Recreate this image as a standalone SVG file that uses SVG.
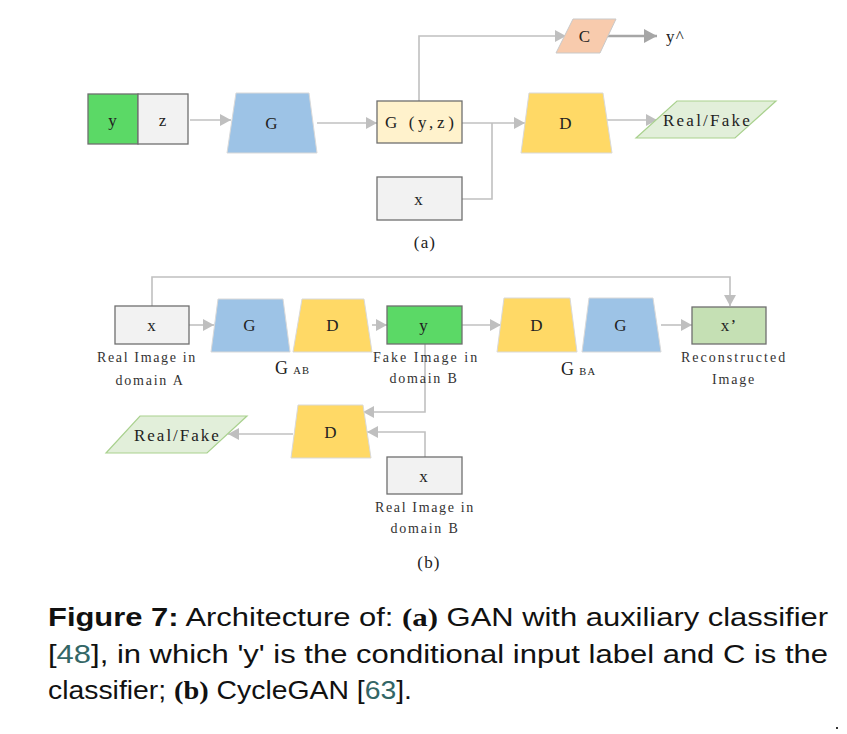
<svg xmlns="http://www.w3.org/2000/svg" width="847" height="734" viewBox="0 0 847 734">
<defs>
<marker id="arr" markerUnits="userSpaceOnUse" markerWidth="12" markerHeight="12" refX="11" refY="6" orient="auto">
<path d="M0,0 L11,6 L0,12 z" fill="#bfbfbf"/>
</marker>
<marker id="arrD" markerUnits="userSpaceOnUse" markerWidth="14" markerHeight="14" refX="13" refY="7" orient="auto">
<path d="M0,0 L13,7 L0,14 z" fill="#a6a6a6"/>
</marker>
<style>
.lbl{font-family:"Liberation Serif",serif;font-size:17px;fill:#222;text-anchor:middle;dominant-baseline:central;letter-spacing:1.2px}
.ann{font-family:"Liberation Serif",serif;font-size:14px;fill:#333;text-anchor:middle;dominant-baseline:central;letter-spacing:1.8px}
.box{stroke:#6f6f6f;stroke-width:1.3}
.trap{stroke:#d9d9d9;stroke-width:1}
.blue{fill:#9dc3e6}
.yel{fill:#ffd966}
.gray{fill:#f2f2f2}
.green{fill:#5bd966}
.rf{fill:#e2efda;stroke:#a9d18e;stroke-width:1.2}
.con{fill:none;stroke:#c0c0c0;stroke-width:1.6}
.cap{font-family:"Liberation Sans",sans-serif;font-size:25px;fill:#111}
</style>
</defs>
<rect width="847" height="734" fill="#fff"/>

<g id="connectors">
<path class="con" d="M190,120 H231" marker-end="url(#arr)"/>
<path class="con" d="M317,123 H377" marker-end="url(#arr)"/>
<path class="con" d="M419,101 V36 H566" marker-end="url(#arr)"/>
<path d="M607,36 H657" fill="none" stroke="#a6a6a6" stroke-width="2.4" marker-end="url(#arrD)"/>
<path class="con" d="M462,123 H525" marker-end="url(#arr)"/>
<path class="con" d="M462,199 H492 V123"/>
<path class="con" d="M607,120 H657" marker-end="url(#arr)"/>
<path class="con" d="M152,306 V277 H730 V306" marker-end="url(#arr)"/>
<path class="con" d="M189,325 H214" marker-end="url(#arr)"/>
<path class="con" d="M372,325 H387" marker-end="url(#arr)"/>
<path class="con" d="M462,325 H501" marker-end="url(#arr)"/>
<path class="con" d="M661,325 H692" marker-end="url(#arr)"/>
<path class="con" d="M425,344 V412 H363" marker-end="url(#arr)"/>
<path class="con" d="M425,457 V432 H367" marker-end="url(#arr)"/>
<path class="con" d="M293,434 H228" marker-end="url(#arr)"/>
</g>

<!-- (a) -->
<g id="a-yz">
<rect class="box green" x="88" y="94" width="50" height="50"/>
<rect class="box gray" x="138" y="94" width="50" height="50"/>
<text class="lbl" x="113" y="120">y</text>
<text class="lbl" x="163" y="120">z</text>
</g>
<g id="a-G">
<polygon class="trap blue" points="236,93 309,93 317,153 227,153"/>
<text class="lbl" x="272" y="123">G</text>
</g>
<g id="a-Gyz">
<rect class="box" fill="#fff2cc" x="377" y="101" width="85" height="42"/>
<text class="lbl" x="420" y="122" textLength="70" lengthAdjust="spacing">G (y,z)</text>
</g>
<g id="a-x">
<rect class="box gray" x="377" y="177" width="85" height="43"/>
<text class="lbl" x="419" y="199">x</text>
</g>
<g id="a-C">
<polygon points="573,19 616,19 600,53 556,53" fill="#f8cbad" stroke="#c9c9c9" stroke-width="1"/>
<text class="lbl" x="585" y="36">C</text>
</g>
<g id="a-yhat">
<text class="lbl" x="666" y="36" style="text-anchor:start">y^</text>
</g>
<g id="a-D">
<polygon class="trap yel" points="529,93 603,93 612,153 521,153"/>
<text class="lbl" x="566" y="123">D</text>
</g>
<g id="a-RF">
<polygon class="rf" points="677,101 776,101 735,138 636,138"/>
<text class="lbl" x="707" y="120" textLength="88" lengthAdjust="spacing">Real/Fake</text>
</g>
<text class="lbl" x="425" y="242">(a)</text>

<!-- (b) -->
<g id="b-xA">
<rect class="box gray" x="115" y="306" width="74" height="38"/>
<text class="lbl" x="152" y="325">x</text>
<text class="ann" x="147" y="357" textLength="100" lengthAdjust="spacing">Real Image in</text>
<text class="ann" x="150" y="380">domain A</text>
</g>
<g id="b-GAB">
<polygon class="trap blue" points="218,299 283,299 290,352 211,352"/>
<text class="lbl" x="250" y="325">G</text>
<polygon class="trap yel" points="302,299 364,299 372,352 293,352"/>
<text class="lbl" x="333" y="325">D</text>
<text class="lbl" x="275" y="368" style="text-anchor:start;font-size:18px">G<tspan font-size="10.5" dx="4" dy="2">AB</tspan></text>
</g>
<g id="b-y">
<rect class="box green" x="387" y="306" width="75" height="38"/>
<text class="lbl" x="424" y="325">y</text>
<text class="ann" x="426" y="357" textLength="106" lengthAdjust="spacing">Fake Image in</text>
<text class="ann" x="424" y="378">domain B</text>
</g>
<g id="b-GBA">
<polygon class="trap yel" points="504,298 570,298 577,352 497,352"/>
<text class="lbl" x="537" y="325">D</text>
<polygon class="trap blue" points="589,298 653,298 661,352 582,352"/>
<text class="lbl" x="621" y="325">G</text>
<text class="lbl" x="561" y="369" style="text-anchor:start;font-size:18px">G<tspan font-size="10.5" dx="4" dy="2">BA</tspan></text>
</g>
<g id="b-xprime">
<rect class="box" fill="#c5e0b4" x="692" y="307" width="74" height="37"/>
<text class="lbl" x="729" y="325">x’</text>
<text class="ann" x="734" y="357" textLength="106" lengthAdjust="spacing">Reconstructed</text>
<text class="ann" x="734" y="379">Image</text>
</g>
<g id="b-D">
<polygon class="trap yel" points="298,405 363,405 371,458 291,458"/>
<text class="lbl" x="331" y="432">D</text>
</g>
<g id="b-RF">
<polygon class="rf" points="140,416 247,416 207,453 106,453"/>
<text class="lbl" x="177" y="435" textLength="86" lengthAdjust="spacing">Real/Fake</text>
</g>
<g id="b-xB">
<rect class="box gray" x="387" y="457" width="75" height="37"/>
<text class="lbl" x="424" y="476">x</text>
<text class="ann" x="425" y="507" textLength="100" lengthAdjust="spacing">Real Image in</text>
<text class="ann" x="425" y="528">domain B</text>
</g>
<text class="lbl" x="429" y="562">(b)</text>

<!-- caption -->
<g id="caption">
<text class="cap" x="48" y="626" textLength="780" lengthAdjust="spacingAndGlyphs"><tspan font-weight="bold">Figure 7:</tspan> Architecture of: <tspan font-family="Liberation Serif" font-weight="bold">(a)</tspan> GAN with auxiliary classifier</text>
<text class="cap" x="48" y="663" textLength="780" lengthAdjust="spacingAndGlyphs">[<tspan fill="#336666">48</tspan>], in which 'y' is the conditional input label and C is the</text>
<text class="cap" x="48" y="699" textLength="364" lengthAdjust="spacingAndGlyphs">classifier; <tspan font-family="Liberation Serif" font-weight="bold">(b)</tspan> CycleGAN [<tspan fill="#336666">63</tspan>].</text>
<rect x="836" y="727" width="2" height="2" fill="#333"/>
</g>
</svg>
